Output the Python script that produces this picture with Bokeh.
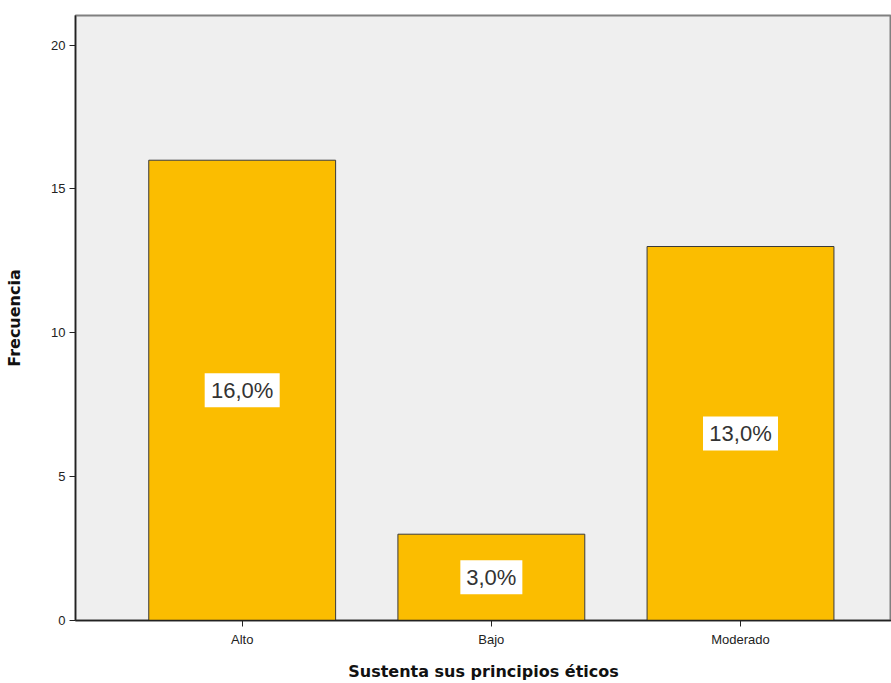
from bokeh.plotting import figure
from bokeh.models import ColumnDataSource, Range1d, FixedTicker
from bokeh.core.properties import value
from bokeh.embed import file_html
from bokeh.resources import INLINE

categories = ["Alto", "Bajo", "Moderado"]
frequencies = [16, 3, 13]
pct_labels = ["16,0%", "3,0%", "13,0%"]
y_ticks = [0, 5, 10, 15, 20]

xs = list(range(len(categories)))
src = ColumnDataSource(dict(
    x=xs, top=frequencies, mid=[f / 2 for f in frequencies], lab=pct_labels,
    bw=[len(s) * 13 + 10 for s in pct_labels]
))

p = figure(width=891, height=683, output_backend="svg", toolbar_location=None,
           x_range=Range1d(-0.669, 2.606), y_range=Range1d(0, 21.03),
           min_border_left=75, min_border_right=0, min_border_top=15, min_border_bottom=60)

p.background_fill_color = "#efefef"
p.border_fill_color = "white"
p.outline_line_color = "#808080"
p.outline_line_width = 2
p.xgrid.visible = False
p.ygrid.visible = False

p.vbar(x="x", top="top", bottom=0, width=0.75, source=src,
       fill_color="#fbbd00", line_color="#3a3a3a", line_width=1)

p.rect(x="x", y="mid", width="bw", height=34, width_units="screen", height_units="screen",
       source=src, fill_color="white", line_color=None)
p.text(x="x", y="mid", text="lab", source=src, text_align="center", text_baseline="middle",
       text_font=value("Liberation Sans"), text_font_size="22px", text_color="#333333")

p.xaxis.ticker = FixedTicker(ticks=xs)
p.xaxis.major_label_overrides = {i: c for i, c in enumerate(categories)}
p.yaxis.ticker = FixedTicker(ticks=y_ticks)

for ax in (p.xaxis[0], p.yaxis[0]):
    ax.axis_line_color = "#222222"
    ax.axis_line_width = 1.5
    ax.major_tick_line_color = "#222222"
    ax.major_tick_in = 0
    ax.major_tick_out = 6
    ax.minor_tick_line_color = None
    ax.major_label_text_font = "Liberation Sans"
    ax.major_label_text_font_size = "13px"
    ax.major_label_text_color = "#222222"
    ax.axis_label_text_font = "DejaVu Sans"
    ax.axis_label_text_font_style = "bold"
    ax.axis_label_text_font_size = "16px"
    ax.axis_label_text_color = "#111111"

p.xaxis.axis_label = "Sustenta sus principios éticos"
p.yaxis.axis_label = "Frecuencia"
p.xaxis.major_label_standoff = 5
p.xaxis.axis_label_standoff = 12
p.yaxis.major_label_standoff = 4
p.yaxis.axis_label_standoff = 24

open("out.html", "w").write(file_html(p, INLINE))
